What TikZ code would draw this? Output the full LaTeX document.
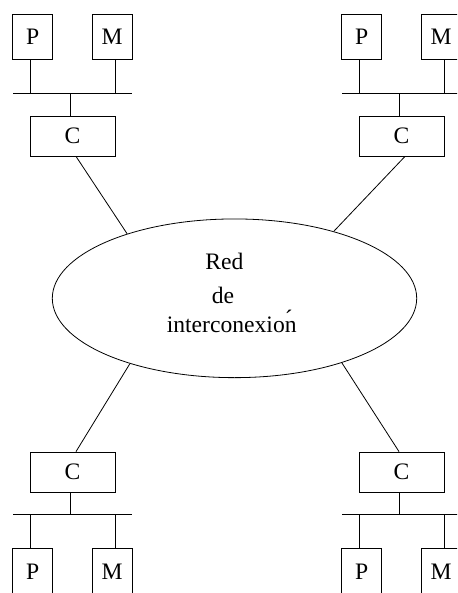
\documentclass[tikz,border=0pt]{standalone}
\usepackage{fontspec}
\setmainfont{Liberation Serif}
\usetikzlibrary{shapes.geometric,calc}
\begin{document}
\begin{tikzpicture}[x=1pt,y=-1pt,
  line width=0.8pt,
  lbl/.style={font=\fontsize{23.6}{28}\selectfont},
  unit/.style={draw,lbl,inner sep=0pt,minimum width=40pt,minimum height=45pt},
  lowunit/.style={unit,minimum height=48pt},
  ctrl/.style={draw,lbl,inner sep=0pt,minimum width=85pt,minimum height=40pt},
  net/.style={draw,ellipse,inner sep=0pt,minimum width=364.4pt,minimum height=158.7pt}]
\useasboundingbox (0,0) rectangle (457,593);
\clip (0,0) rectangle (457,593);

% upper clusters: P and M on a bus, bus controller below
\foreach \i/\dx in {1/0,2/329}{
  \node[unit] (Pt\i) at (32.7+\dx,36.5) {P};
  \node[unit] (Mt\i) at (112+\dx,36.5) {M};
  \node[ctrl] (Ct\i) at (72.5+\dx,136) {C};
  \coordinate (bwt\i) at (13+\dx,93.7);
  \coordinate (bet\i) at (132+\dx,93.7);
  \coordinate (tpt\i) at (30+\dx,93.7);
  \coordinate (tmt\i) at (115+\dx,93.7);
  \coordinate (tct\i) at (70+\dx,93.7);
  \draw (bwt\i) -- (bet\i);
  \draw (Pt\i.south -| tpt\i) -- (tpt\i);
  \draw (Mt\i.south -| tmt\i) -- (tmt\i);
  \draw (Ct\i.north -| tct\i) -- (tct\i);
}

% lower clusters: bus controller above, P and M below
\foreach \i/\dx in {1/0,2/329}{
  \node[ctrl] (Cb\i) at (72.5+\dx,472) {C};
  \node[lowunit] (Pb\i) at (32.7+\dx,572) {P};
  \node[lowunit] (Mb\i) at (112+\dx,572) {M};
  \coordinate (bwb\i) at (13+\dx,514);
  \coordinate (beb\i) at (132+\dx,514);
  \coordinate (tpb\i) at (30+\dx,514);
  \coordinate (tmb\i) at (115+\dx,514);
  \coordinate (tcb\i) at (70+\dx,514);
  \draw (bwb\i) -- (beb\i);
  \draw (Pb\i.north -| tpb\i) -- (tpb\i);
  \draw (Mb\i.north -| tmb\i) -- (tmb\i);
  \draw (Cb\i.south -| tcb\i) -- (tcb\i);
}

% interconnection network
\node[net] (red) at (234.5,298.3) {};
\node[lbl,anchor=base,inner sep=0pt] (l1) at (224.5,269) {Red};
\node[lbl,anchor=base,inner sep=0pt] (l2) at (223,303) {de};
\node[lbl,anchor=base,inner sep=0pt] (l3) at (231.7,332.7)
  {interconexion\rlap{\kern-11.7pt\raisebox{6pt}{\char"00B4}}};

% links from the controllers to the network
\draw ([xshift=3.5pt]Ct1.south) -- (red.149.3);
\draw ([xshift=3.5pt]Ct2.south) -- (red.34.6);
\draw ([xshift=3.5pt]Cb1.north) -- (red.212.3);
\draw ([xshift=-2.5pt]Cb2.north) -- (red.329.6);
\end{tikzpicture}
\end{document}
